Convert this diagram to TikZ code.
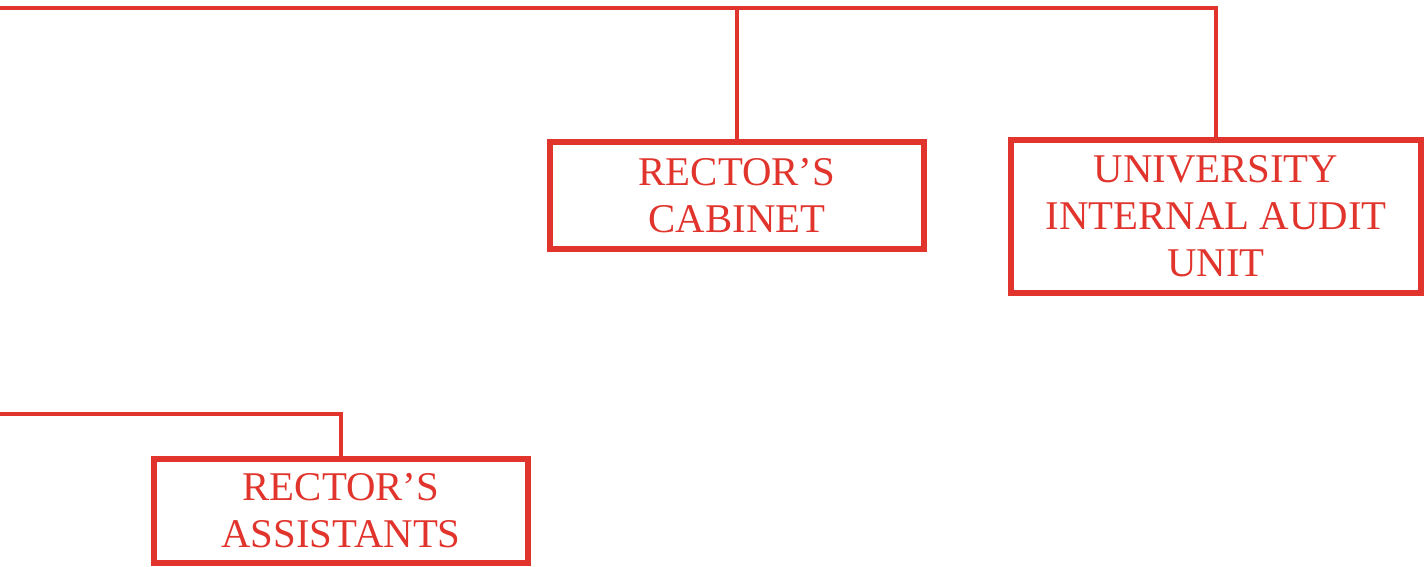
\documentclass[tikz,border=0pt]{standalone}
\usepackage{fontspec}
\setmainfont{Liberation Serif}
\definecolor{orgred}{RGB}{224,52,44}
\begin{document}
\begin{tikzpicture}[x=0.5pt,y=-0.5pt,
  unitbox/.style={draw=orgred, line width=3pt, rectangle, inner sep=0pt,
    text=orgred, align=center, font=\fontsize{20.4pt}{23.5pt}\selectfont},
  link/.style={draw=orgred, line width=2pt}]
\useasboundingbox (0,0) rectangle (1426,567);
\node[unitbox, minimum width=187pt, minimum height=53.5pt] (cab) at (737,195.5) {RECTOR’S\\CABINET};
\node[unitbox, minimum width=205pt, minimum height=76.5pt] (audit) at (1216,216.5) {UNIVERSITY\\INTERNAL AUDIT\\UNIT};
\node[unitbox, minimum width=187pt, minimum height=52pt] (assist) at (341,510.5) {RECTOR’S\\ASSISTANTS};
\coordinate (topleft) at (0,8);
\coordinate (botleft) at (0,414);
\draw[link] (topleft) -| (audit.north);
\draw[link] (cab.north) -- (cab.north |- topleft);
\draw[link] (botleft) -| (assist.north);
\end{tikzpicture}
\end{document}
